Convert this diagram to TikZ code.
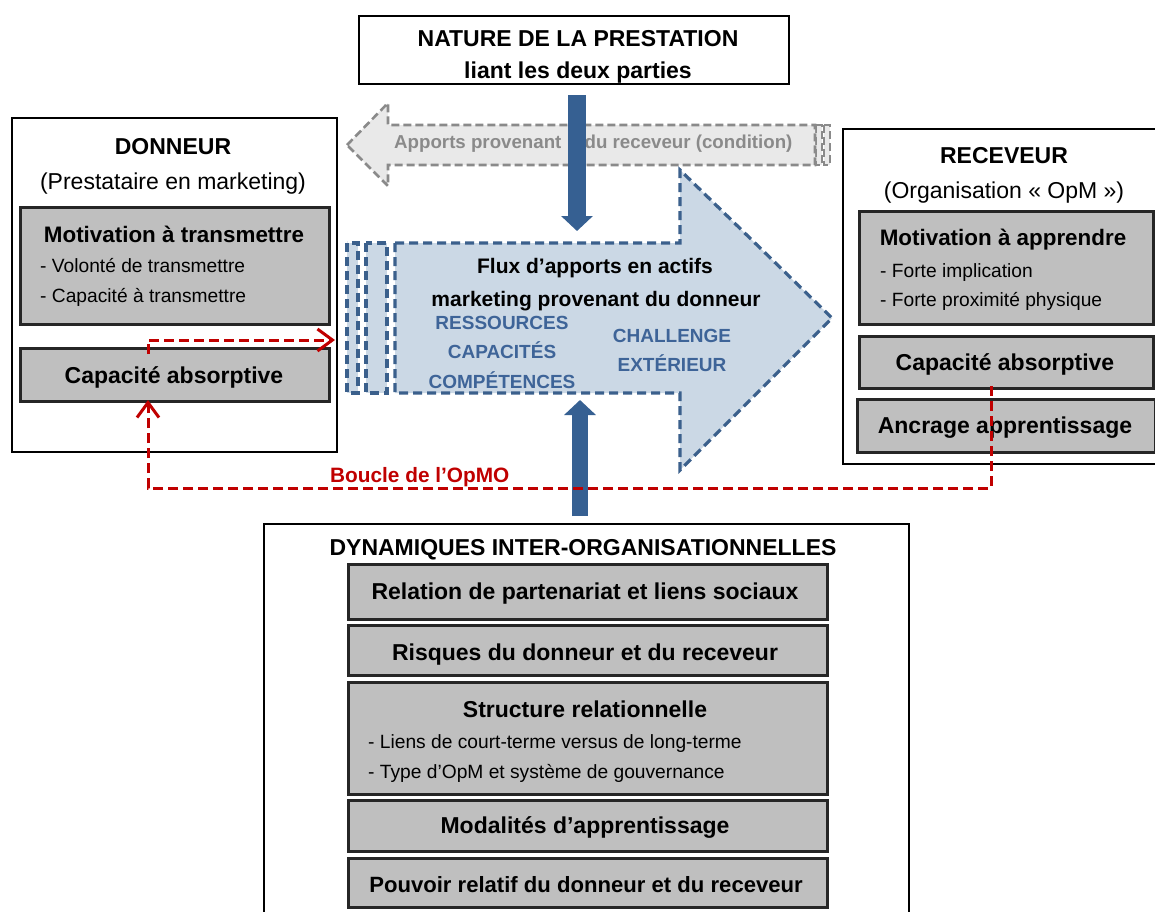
\documentclass[tikz,border=0pt]{standalone}
\usepackage{fontspec}
\setmainfont{Liberation Sans}
\usetikzlibrary{arrows.meta,calc}
\definecolor{boxgray}{RGB}{191,191,191}
\definecolor{flowblue}{RGB}{54,96,146}
\definecolor{flowfill}{RGB}{203,216,229}
\definecolor{flowline}{RGB}{59,96,140}
\definecolor{flowtext}{RGB}{62,100,152}
\definecolor{condfill}{RGB}{233,233,233}
\definecolor{condgray}{RGB}{138,138,138}
\definecolor{loopred}{RGB}{192,0,0}
\begin{document}
\begin{tikzpicture}[x=1pt,y=-1pt,
  outerbox/.style={draw=black, line width=2pt, fill=white, inner sep=0pt, anchor=north west},
  graybox/.style={draw=black!85, line width=2.5pt, fill=boxgray, inner sep=0pt, anchor=north west},
  headtxt/.style={font=\fontsize{23}{27}\selectfont\bfseries, inner sep=0pt, anchor=base},
  mottxt/.style={font=\fontsize{22.4}{26}\selectfont\bfseries, inner sep=0pt, anchor=base},
  subtxt/.style={font=\fontsize{23}{27}\selectfont, inner sep=0pt, anchor=base},
  bullettxt/.style={font=\fontsize{19.2}{22}\selectfont, inner sep=0pt, anchor=base west},
  fluxtxt/.style={font=\fontsize{21}{24}\selectfont\bfseries, inner sep=0pt, anchor=base},
  flowlbl/.style={font=\fontsize{19}{22}\selectfont\bfseries, text=flowtext, inner sep=0pt, anchor=base},
  flowdash/.style={draw=flowline, line width=3.2pt, dash pattern=on 9pt off 5pt, fill=flowfill},
  conddash/.style={draw=condgray, line width=2.6pt, dash pattern=on 8pt off 4pt, fill=condfill},
  redloop/.style={draw=loopred, line width=3pt, dash pattern=on 10pt off 5pt},
  redtip/.style={-{Straight Barb[length=15pt,width=22pt,line width=3pt]}},
]
\useasboundingbox (0,0) rectangle (1155,911);
\fill[white] (0,0) rectangle (1155,911);

% ---------------- top box
\node[outerbox, minimum width=430pt, minimum height=68pt] (nature) at (358,15) {};
\node[headtxt] (natureA) at (578,46) {NATURE DE LA PRESTATION};
\node[headtxt] (natureB) at (578,78) {liant les deux parties};

% ---------------- donneur
\node[outerbox, minimum width=325pt, minimum height=334pt] (donneur) at (11,117) {};
\node[headtxt] (donT) at (173,154) {DONNEUR};
\node[subtxt] (donS) at (173,189) {(Prestataire en marketing)};
\node[graybox, minimum width=309pt, minimum height=117pt] (motD) at (19,206) {};
\node[mottxt] (motDT) at (174,242) {Motivation à transmettre};
\node[bullettxt] (motD1) at (40,272) {- Volonté de transmettre};
\node[bullettxt] (motD2) at (40,302) {- Capacité à transmettre};
\node[graybox, minimum width=309pt, minimum height=53pt] (capD) at (19,347) {};
\node[headtxt] (capDT) at (174,383) {Capacité absorptive};

% ---------------- receveur
\node[outerbox, minimum width=318pt, minimum height=335pt] (receveur) at (842,128) {};
\node[headtxt] (recT) at (1004,163) {RECEVEUR};
\node[subtxt] (recS) at (1004,198) {(Organisation « OpM »)};
\node[graybox, minimum width=294pt, minimum height=113pt] (motR) at (858,210) {};
\node[mottxt] (motRT) at (1003,245) {Motivation à apprendre};
\node[bullettxt] (motR1) at (880,277) {- Forte implication};
\node[bullettxt] (motR2) at (880,306) {- Forte proximité physique};
\node[graybox, minimum width=294pt, minimum height=52pt] (capR) at (858,335) {};
\node[headtxt] (capRT) at (1005,370) {Capacité absorptive};
\node[graybox, minimum width=298pt, minimum height=53pt] (ancR) at (856,398) {};
\node[headtxt] (ancRT) at (1005,433) {Ancrage apprentissage};

% ---------------- gray arrow (apports du receveur)
\draw[conddash] (816,125) rectangle (822,165);
\draw[conddash] (824,125) rectangle (830,165);
\draw[conddash] (347,145) -- (388,103) -- (388,125) -- (815,125) -- (815,165) -- (388,165) -- (388,186) -- cycle;
\node[font=\fontsize{18.7}{22}\selectfont\bfseries, text=condgray, inner sep=0pt, anchor=base west] (cond) at (394,148) {Apports provenant\hspace{18pt} du receveur (condition)};

% ---------------- big flow arrow
\draw[flowdash] (347,243) rectangle (358,393);
\draw[flowdash] (366,243) rectangle (387,393);
\draw[flowdash] (395,243) -- (680,243) -- (680,170) -- (832,318) -- (680,470) -- (680,393) -- (395,393) -- cycle;
\coordinate (flowtop) at (577,243);
\coordinate (flowbot) at (580,393);
\node[fluxtxt] (flux1) at (595,273) {Flux d’apports en actifs};
\node[fluxtxt] (flux2) at (596,306) {marketing provenant du donneur};
\node[flowlbl] (res) at (502,329) {RESSOURCES};
\node[flowlbl] (capa) at (502,358) {CAPACITÉS};
\node[flowlbl] (comp) at (502,388) {COMPÉTENCES};
\node[flowlbl] (chal) at (672,342) {CHALLENGE};
\node[flowlbl] (ext) at (672,371) {EXTÉRIEUR};

% ---------------- bottom box
\node[outerbox, minimum width=645pt, minimum height=410pt] (dyn) at (263,523) {};
\node[headtxt] (dynT) at (583,555) {DYNAMIQUES INTER-ORGANISATIONNELLES};
\node[graybox, minimum width=479pt, minimum height=55pt] (b1) at (347,563) {};
\node[headtxt] (b1T) at (585,599) {Relation de partenariat et liens sociaux};
\node[graybox, minimum width=479pt, minimum height=50pt] (b2) at (347,624) {};
\node[headtxt] (b2T) at (585,660) {Risques du donneur et du receveur};
\node[graybox, minimum width=479pt, minimum height=112pt] (b3) at (347,681) {};
\node[headtxt] (b3T) at (585,717) {Structure relationnelle};
\node[bullettxt] (b31) at (368,748) {- Liens de court-terme versus de long-terme};
\node[bullettxt] (b32) at (368,778) {- Type d’OpM et système de gouvernance};
\node[graybox, minimum width=479pt, minimum height=51pt] (b4) at (347,799) {};
\node[headtxt] (b4T) at (585,833) {Modalités d’apprentissage};
\node[graybox, minimum width=479pt, minimum height=49pt] (b5) at (347,857) {};
\node[headtxt, font=\fontsize{22.1}{26}\selectfont\bfseries] (b5T) at (586,892) {Pouvoir relatif du donneur et du receveur};

% ---------------- blue block arrows
\draw[flowblue, line width=18pt, shorten <=10pt, shorten >=12pt,
  -{Triangle[length=15pt,width=31pt]}] (nature.south -| flowtop) -- (flowtop);
\draw[flowblue, line width=16pt, shorten <=7pt, shorten >=7pt,
  -{Triangle[length=15pt,width=31pt]}] (dyn.north -| flowbot) -- (flowbot);

% ---------------- red loop
\coordinate (capRfoot) at (991,386);
\coordinate (capDfoot) at (148,400);
\coordinate (capDtop) at (148,354);
\coordinate (flowin) at (335,340);
\draw[redloop, redtip] (capRfoot) -- (991,488) -- (148,488) -- (capDfoot);
\draw[redloop, redtip] (capDtop) -- (148,340) -- (flowin);
\node[font=\fontsize{20.8}{24}\selectfont\bfseries, text=loopred, inner sep=0pt, anchor=base west] (boucle) at (330,482) {Boucle de l’OpMO};
\end{tikzpicture}
\end{document}
